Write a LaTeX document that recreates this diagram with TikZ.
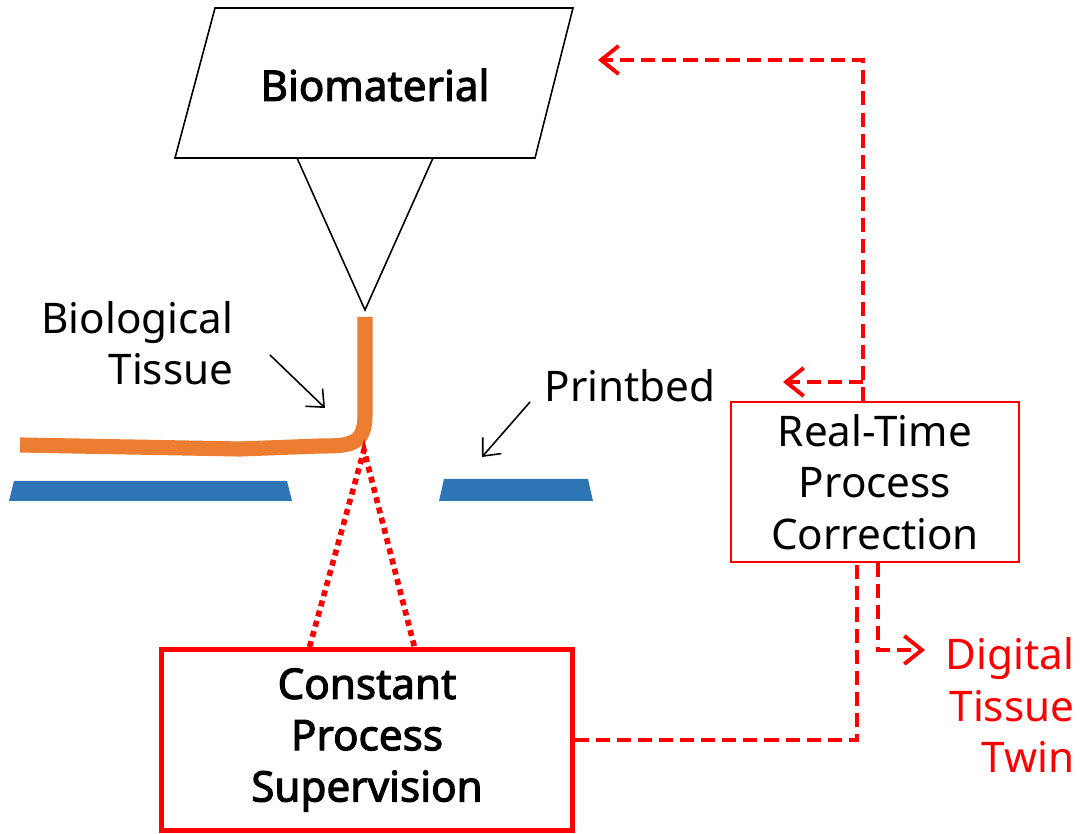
\documentclass[tikz,border=0pt]{standalone}
\usepackage{fontspec}
\setmainfont{Noto Sans}[BoldFont={Noto Sans}, BoldFeatures={FakeBold=2.5}]
\usetikzlibrary{arrows.meta}
\definecolor{tissueorange}{HTML}{ED7D31}
\definecolor{bedblue}{HTML}{2E75B6}
\tikzset{
  txt/.style={font=\fontsize{12}{14.6}\selectfont, align=center, inner sep=0pt},
  boldtxt/.style={txt, font=\fontsize{12}{14.6}\selectfont\bfseries},
  pointer/.style={line width=0.45pt, -{Straight Barb[length=4pt,width=7pt,line width=0.45pt]}},
  feedback/.style={red, line width=1.1pt, dash pattern=on 4pt off 2pt},
  feedarrow/.style={feedback, -{Straight Barb[length=5pt,width=8pt,line width=1.1pt]}},
  sight/.style={red, line width=1.6pt, dash pattern=on 1.7pt off 1.3pt},
}
\begin{document}
\begin{tikzpicture}[x=0.01cm,y=-0.01cm]
  \useasboundingbox (0,0) rectangle (1081,834);
  % printer head
  \draw[line width=0.45pt] (215,8) -- (573,8) -- (535,158) -- (175,158) -- cycle;
  \draw[line width=0.45pt] (297,158) -- (365,310) -- (433,158);
  \node[boldtxt] (bio) at (375,85) {Biomaterial};
  % tissue strand and printbed
  \draw[tissueorange, line width=4.3pt] (365,317) -- (365,415)
    .. controls (365,445) and (350,446) .. (320,446) -- (240,449) -- (20,445);
  \fill[bedblue] (14,481) -- (287,481) -- (292,501) -- (9,501) -- cycle;
  \fill[bedblue] (444,479) -- (588,479) -- (593,501) -- (439,501) -- cycle;
  \node[txt, align=right, anchor=east] (tissue) at (234,343) {Biological\\Tissue};
  \node[txt] (bed) at (630,386) {Printbed};
  \coordinate (tissuetip) at (325,408);
  \coordinate (bedtip) at (482,457);
  \draw[pointer] (270,355) -- (tissuetip);
  \draw[pointer] (530,402) -- (bedtip);
  % supervision
  \node[draw=red, line width=1.4pt, minimum width=410pt*0.2845, minimum height=181pt*0.2845,
        boldtxt] (cps) at (367,740) {Constant\\Process\\Supervision};
  \coordinate (view) at (364,450);
  \draw[sight] ([xshift=1.5cm]cps.north west) -- (view) -- ([xshift=-1.6cm]cps.north east);
  % correction
  \node[draw=red, line width=0.6pt, minimum width=288pt*0.2845, minimum height=160pt*0.2845, txt] (rtpc) at (875,482)
        {Real-Time\\Process\\Correction};
  \node[txt, red, align=right, anchor=east] (twin) at (1075,705) {Digital\\Tissue\\Twin};
  \coordinate (headin) at (598,60);
  \coordinate (bedin) at (783,382);
  \coordinate (twinin) at (925,650);
  \draw[feedback] (cps.east) -- (857,740) -- (rtpc.south -| 857,0);
  \draw[feedarrow] (rtpc.south -| 878,0) -- (878,650) -- (twinin);
  \draw[feedarrow] (rtpc.north -| 863,0) -- (863,60) -- (headin);
  \draw[feedarrow] (863,382) -- (bedin);
\end{tikzpicture}
\end{document}
